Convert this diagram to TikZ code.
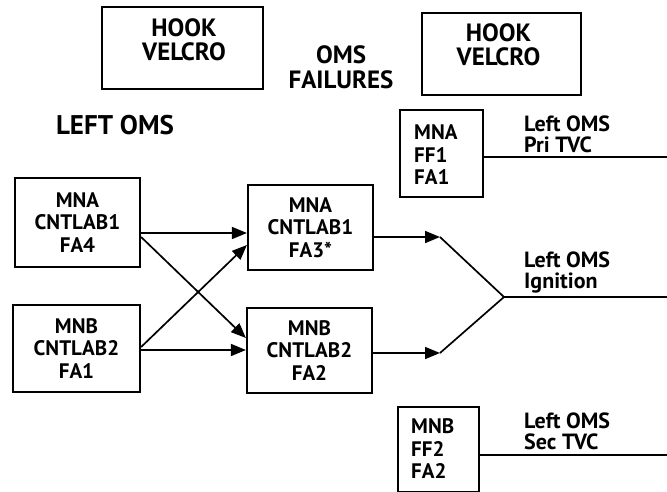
\documentclass[tikz,border=0pt]{standalone}
\usepackage{fontspec}
\setmainfont{PT Sans}
\usetikzlibrary{arrows.meta}
\tikzset{
  boxshape/.style={draw, line width=2.2pt, inner sep=0pt},
  hooktext/.style={inner sep=0pt, align=center, font=\fontsize{25}{24}\selectfont\bfseries},
  titletext/.style={inner sep=0pt, align=center, font=\fontsize{25}{25}\selectfont\bfseries},
  boxtext/.style={inner sep=0pt, align=center, font=\fontsize{21}{22.5}\selectfont\bfseries},
  boxtextl/.style={inner sep=0pt, align=left, font=\fontsize{21}{22.5}\selectfont\bfseries},
  labeltext/.style={inner sep=0pt, align=left, anchor=west, font=\fontsize{22}{21}\selectfont\bfseries},
  wire/.style={line width=1.7pt},
  arr/.style={line width=1.7pt, -{Triangle[length=15pt,width=12pt]}},
}
\begin{document}
\begin{tikzpicture}[x=1pt,y=-1pt]
\useasboundingbox (0,0) rectangle (667,491);
% top boxes
\node[boxshape, minimum width=161pt, minimum height=82pt] (hk1) at (182.5,48) {};
\node[hooktext] (hk1t) at (184,40) {HOOK\\VELCRO};
\node[boxshape, minimum width=159pt, minimum height=82pt] (hk2) at (501.5,54) {};
\node[hooktext] (hk2t) at (498.5,45) {HOOK\\VELCRO};
\node[titletext] (title) at (341,67) {OMS\\FAILURES};
\node[inner sep=0pt, font=\fontsize{27}{27}\selectfont\bfseries] (left) at (115,125) {LEFT OMS};
% right boxes
\node[boxshape, minimum width=83pt, minimum height=87pt] (E) at (441.5,153.5) {};
\node[boxtextl, anchor=west] (Et) at (414,155) {MNA\\FF1\\FA1};
\node[labeltext] (pri) at (524,134) {Left OMS\\Pri TVC};
\coordinate (priend) at (667,157);
\draw[wire] (E.east |- priend) -- (priend);
\node[boxshape, minimum width=81pt, minimum height=85pt] (F) at (438.5,449.5) {};
\node[boxtextl, anchor=west] (Ft) at (411,449) {MNB\\FF2\\FA2};
\node[labeltext] (sec) at (524,431) {Left OMS\\Sec TVC};
\coordinate (secend) at (667,455);
\draw[wire] (F.east |- secend) -- (secend);
% left boxes
\node[boxshape, boxtext, minimum width=125pt, minimum height=89pt] (A) at (77.5,222.5) {MNA\\CNTLAB1\\FA4};
\node[boxshape, boxtext, minimum width=127pt, minimum height=87pt] (B) at (76.5,348.5) {MNB\\CNTLAB2\\FA1};
\node[boxshape, boxtext, minimum width=125pt, minimum height=85pt] (C) at (310.5,227.5) {MNA\\CNTLAB1\\FA3*};
\node[boxshape, boxtext, minimum width=125pt, minimum height=85pt] (D) at (309.5,350.5) {MNB\\CNTLAB2\\FA2};
% connector levels
\coordinate (yac) at (0,233);
\coordinate (yad1) at (0,237);
\coordinate (yad2) at (0,338);
\coordinate (ybc1) at (0,347);
\coordinate (ybc2) at (0,245);
\coordinate (ybd) at (0,350);
\draw[arr] (A.east |- yac) -- (C.west |- yac);
\draw[arr] (A.east |- yad1) -- (D.west |- yad2);
\draw[arr] (B.east |- ybc1) -- (C.west |- ybc2);
\draw[arr] (B.east |- ybd) -- (D.west |- ybd);
% outputs to ignition
\coordinate (tipC) at (440,237);
\coordinate (tipD) at (440,353);
\coordinate (junc) at (504,297);
\coordinate (ignend) at (667,297);
\draw[arr] (C.east |- tipC) -- (tipC);
\draw[arr] (D.east |- tipD) -- (tipD);
\draw[wire] (tipC) -- (junc) -- (tipD);
\draw[wire] (junc) -- (ignend);
\node[labeltext] (ign) at (524,272) {Left OMS\\Ignition};
\end{tikzpicture}
\end{document}
